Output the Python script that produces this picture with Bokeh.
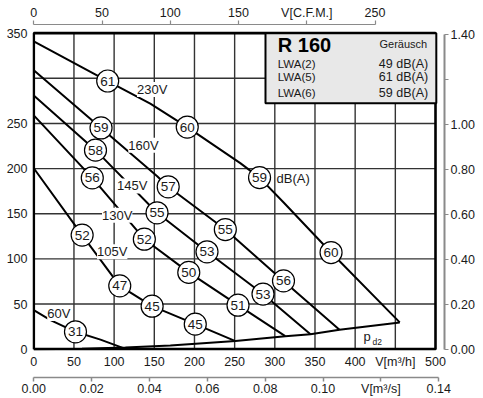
from bokeh.plotting import figure
from bokeh.models import Range1d, LinearAxis, FixedTicker, Label, LabelSet, ColumnDataSource, PrintfTickFormatter
from bokeh.core.properties import value
from bokeh.embed import file_html
from bokeh.resources import INLINE

# ---------------- data ----------------
flow_ticks = [0, 50, 100, 150, 200, 250, 300, 350, 400, 450, 500]      # m3/h
pa_ticks = [0, 50, 100, 150, 200, 250, 300, 350]                       # Pa
cfm_ticks = [0, 50, 100, 150, 200, 250]
m3s_ticks = [0.0, 0.02, 0.04, 0.06, 0.08, 0.10, 0.12, 0.14]
inwg_ticks = [0.0, 0.2, 0.4, 0.6, 0.8, 1.0, 1.2, 1.4]

q_230 = [0, 92, 145, 191, 257, 281, 311, 370, 455.5]
p_230 = [341, 297, 272, 246, 206, 190, 162.5, 107, 29.6]
q_160 = [0, 83.7, 153.6, 167.3, 238.4, 310.8, 380.5]
p_160 = [309, 245, 191.6, 179.8, 132.5, 75.6, 21.5]
q_145 = [0, 76.8, 153.4, 215.6, 285.3, 344.4]
p_145 = [281, 220.4, 151, 107.8, 61, 16.6]
q_130 = [0, 72.8, 137.6, 192.9, 254.2, 313]
p_130 = [259, 189.7, 121.8, 85, 48.7, 14.4]
q_105 = [0, 60.2, 107, 147.3, 201, 251]
p_105 = [200.4, 126.3, 70.1, 47.6, 27.7, 8.9]
q_60 = [0, 20.8, 51.9, 83, 111.6]
p_60 = [43.2, 32.1, 19.2, 10.5, 1.1]
q_pd2 = [0, 60, 114, 170, 251, 313, 344.4, 380.5, 455.5]
p_pd2 = [0, 0.5, 1.9, 4.1, 8.9, 14.4, 16.6, 21.5, 29.6]

# noise level markers (dB(A)) on the curves
db_q = [92, 191, 281, 370,
        83.7, 167.3, 238.4, 310.8,
        76.8, 153.4, 215.6, 285.3,
        72.8, 137.6, 192.9, 254.2,
        60.2, 107, 147.3, 201,
        51.9]
db_p = [297, 246, 190, 107,
        245, 179.8, 132.5, 75.6,
        220.4, 151, 107.8, 61,
        189.7, 121.8, 85, 48.7,
        126.3, 70.1, 47.6, 27.7,
        19.2]
db_val = [61, 60, 59, 60,
          59, 57, 55, 56,
          58, 55, 53, 53,
          56, 52, 50, 51,
          52, 47, 45, 45,
          31]

volt_labels = ["230V", "160V", "145V", "130V", "105V", "60V"]
legend_title = "R 160"
legend_head = "Geräusch"
legend_names = ["LWA(2)", "LWA(5)", "LWA(6)"]
legend_values = ["49 dB(A)", "61 dB(A)", "59 dB(A)"]

# ---------------- styling / layout ----------------
FONT = "Liberation Sans"
TXT = "#1a1a1a"
GRID = "#333333"
AX = "#8a8a8a"

X0, X1 = -1.6, 511.2
Y0, Y1 = -1.5, 359.6

p = figure(width=483, height=398, x_range=Range1d(X0, X1), y_range=Range1d(Y0, Y1),
           output_backend="svg", toolbar_location=None,
           x_axis_location=None, y_axis_location=None,
           min_border_left=32, min_border_right=39, min_border_top=24, min_border_bottom=0)
p.outline_line_color = None
p.xgrid.grid_line_color = None
p.ygrid.grid_line_color = None
p.background_fill_color = "white"
p.border_fill_color = "white"

p.extra_x_ranges = {"cfm": Range1d(X0 / 1.699, X1 / 1.699), "m3s": Range1d(X0 / 3600, X1 / 3600)}
p.extra_y_ranges = {"inwg": Range1d(Y0 / 249.09, Y1 / 249.09)}


def style_axis(ax, size="12.5px"):
    ax.major_label_text_font = FONT
    ax.major_label_text_font_size = size
    ax.major_label_text_color = TXT
    ax.minor_tick_line_color = None


# left Pa axis
ax_l = LinearAxis(ticker=FixedTicker(ticks=pa_ticks), major_label_overrides={300: ""})
style_axis(ax_l)
ax_l.axis_line_color = None
ax_l.major_tick_line_color = None
ax_l.major_tick_out = 0
ax_l.major_tick_in = 0
ax_l.major_label_standoff = 5
p.add_layout(ax_l, "left")

# bottom m3/h axis
ax_q = LinearAxis(ticker=FixedTicker(ticks=flow_ticks), major_label_overrides={450: "V[m³/h]"})
style_axis(ax_q)
ax_q.axis_line_color = None
ax_q.major_tick_line_color = None
ax_q.major_tick_out = 0
ax_q.major_tick_in = 0
ax_q.major_label_standoff = 4
ax_q.axis_label = " "
ax_q.axis_label_standoff = 1
ax_q.axis_label_text_font_size = "2px"
p.add_layout(ax_q, "below")

# bottom m3/s axis
ax_s = LinearAxis(x_range_name="m3s", ticker=FixedTicker(ticks=m3s_ticks), bounds=(0, 0.14),
                  formatter=PrintfTickFormatter(format="%.2f"),
                  major_label_overrides={0.12: "V[m³/s]"})
style_axis(ax_s)
ax_s.axis_line_color = AX
ax_s.axis_line_width = 1.5
ax_s.major_tick_line_color = AX
ax_s.major_tick_line_width = 1.5
ax_s.major_tick_out = 4
ax_s.major_tick_in = 0
ax_s.major_label_standoff = 0
p.add_layout(ax_s, "below")

# top CFM axis
ax_c = LinearAxis(x_range_name="cfm", ticker=FixedTicker(ticks=cfm_ticks), bounds=(0, 250),
                  major_label_overrides={200: "V[C.F.M.]"})
style_axis(ax_c)
ax_c.axis_line_color = AX
ax_c.axis_line_width = 1.2
ax_c.major_tick_line_color = AX
ax_c.major_tick_line_width = 1.2
ax_c.major_tick_out = 4
ax_c.major_tick_in = 0
ax_c.major_label_standoff = 1
p.add_layout(ax_c, "above")

# right in.WG axis
ax_w = LinearAxis(y_range_name="inwg", ticker=FixedTicker(ticks=inwg_ticks), bounds=(0, 1.4),
                  formatter=PrintfTickFormatter(format="%.2f"),
                  major_label_overrides={1.2: ""})
style_axis(ax_w)
ax_w.axis_line_color = AX
ax_w.axis_line_width = 2
ax_w.major_tick_line_color = AX
ax_w.major_tick_line_width = 1.2
ax_w.major_tick_out = 4
ax_w.major_tick_in = 0
ax_w.major_label_standoff = 2
p.add_layout(ax_w, "right")

# grid lines (inside the 0..500 x 0..350 chart area), as float multi-lines
gx = [[float(v), float(v)] for v in flow_ticks[1:-1]]
gy = [[float(pa_ticks[0]), float(pa_ticks[-1])] for _ in flow_ticks[1:-1]]
hx = [[float(flow_ticks[0]), float(flow_ticks[-1])] for _ in pa_ticks[1:-1]]
hy = [[float(v), float(v)] for v in pa_ticks[1:-1]]
p.multi_line(xs=gx + hx, ys=gy + hy, line_color=GRID, line_width=1.4)

# curves
for qs, ps in [(q_230, p_230), (q_160, p_160), (q_145, p_145), (q_130, p_130),
               (q_105, p_105), (q_60, p_60), (q_pd2, p_pd2)]:
    p.line([float(v) for v in qs], [float(v) for v in ps], line_color="black", line_width=2)

# chart frame
fx = [float(v) for v in (flow_ticks[0], flow_ticks[-1], flow_ticks[-1], flow_ticks[0], flow_ticks[0])]
fy = [float(v) for v in (pa_ticks[0], pa_ticks[0], pa_ticks[-1], pa_ticks[-1], pa_ticks[0])]
p.line(fx, fy, line_color="black", line_width=2.6)

# legend box
p.quad(left=[288.4], right=[501.0], bottom=[272.4], top=[350.0], fill_color="#e8e8e8",
       line_color="black", line_width=2)
p.text(x=[303.7], y=[337.4], text=[legend_title], text_font=value(FONT), text_font_size="20px",
       text_font_style="bold", text_align="left", text_baseline="middle", text_color="black")
p.text(x=[489.7], y=[338.5], text=[legend_head], text_font=value(FONT), text_font_size="11px",
       text_align="right", text_baseline="middle", text_color=TXT)
leg_y = [316.4, 301.5, 283.8]
p.text(x=[303.7] * 3, y=leg_y, text=legend_names, text_font=value(FONT), text_font_size="11.5px",
       text_align="left", text_baseline="middle", text_color=TXT)
p.text(x=[490.9] * 3, y=leg_y, text=legend_values, text_font=value(FONT), text_font_size="12.5px",
       text_align="right", text_baseline="middle", text_color=TXT)

# voltage labels with white background
vsrc = ColumnDataSource(dict(x=[147.4, 136.5, 122.5, 103.8, 97.6, 31.1],
                             y=[287.6, 225.9, 180.8, 148.4, 107.8, 39.5],
                             t=volt_labels))
p.add_layout(LabelSet(x="x", y="y", text="t", source=vsrc, text_font=value(FONT),
                      text_font_size="13px", text_align="center", text_baseline="middle",
                      text_color=TXT, background_fill_color="white"))

# dB(A) markers
p.scatter(db_q, db_p, marker="circle", size=22, fill_color="white", line_color="black",
          line_width=1.2)
p.text(x=db_q, y=db_p, text=[str(v) for v in db_val], text_font=value(FONT),
       text_font_size="13.5px", text_align="center", text_baseline="middle", text_color=TXT)
p.text(x=[302.1], y=[188.6], text=["dB(A)"], text_font=value(FONT), text_font_size="13px",
       text_align="left", text_baseline="middle", text_color=TXT)

# p_d2 label
p.text(x=[410.4], y=[14.4], text=["p"], text_font=value(FONT), text_font_size="13px",
       text_align="left", text_baseline="middle", text_color=TXT)
p.text(x=[421.6], y=[8.0], text=["d2"], text_font=value(FONT), text_font_size="8.5px",
       text_align="left", text_baseline="middle", text_color=TXT)

# axis titles
for x, y, t, fs, base in [(-31.1, 306, "Δp", "11.5px", "alphabetic"),
                          (-14.0, 303.5, "t", "8px", "alphabetic"),
                          (-33.1, 287.6, "[Pa]", "11px", "middle"),
                          (526.1, 304.5, "Δp", "11.5px", "alphabetic"),
                          (543.0, 302.0, "t", "8px", "alphabetic"),
                          (513.7, 289.8, "[in.WG]", "10.5px", "middle")]:
    p.add_layout(Label(x=x, y=y, text=t, text_font=FONT, text_font_size=fs,
                       text_align="left", text_baseline=base, text_color=TXT))

open("out.html", "w").write(file_html(p, INLINE))
